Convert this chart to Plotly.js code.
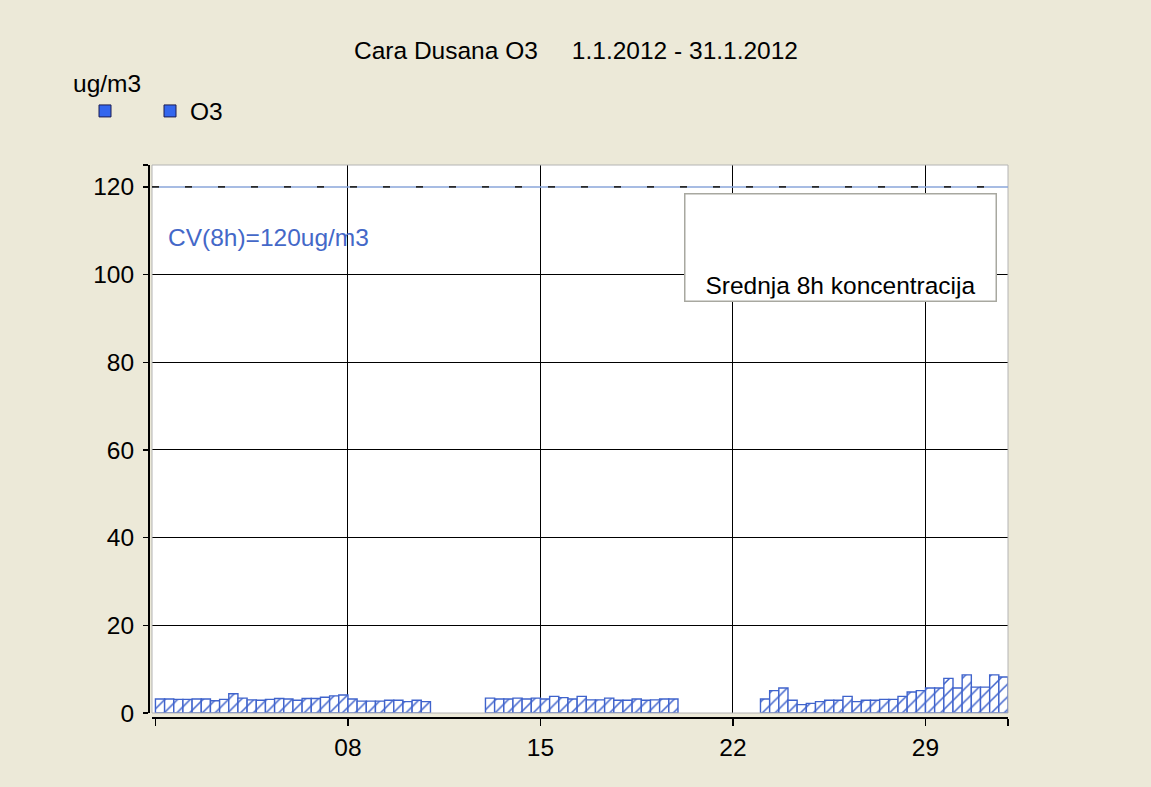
<!DOCTYPE html>
<html>
<head>
<meta charset="utf-8">
<script src="https://cdn.plot.ly/plotly-3.0.1.min.js"></script>
<style>html,body{margin:0;padding:0;background:#ECE9D8;}#chart{width:1151px;height:787px;}</style>
</head>
<body>
<div id="chart"></div>
<script>
// ---- data (8-hour mean O3, ug/m3) ----
const seg1Start = '2012-01-01';
const seg1Values = [3.2,3.2,3.1,3.1,3.2,3.2,2.8,3.1,4.4,3.4,3.0,2.9,3.1,3.3,3.2,2.9,3.3,3.3,3.6,3.9,4.1,3.2,2.7,2.7,2.7,2.9,2.9,2.6,2.9,2.6];
const seg2Start = '2012-01-13';
const seg2Values = [3.4,3.2,3.2,3.4,3.2,3.4,3.2,3.8,3.5,3.2,3.8,3.0,3.0,3.4,2.9,2.9,3.2,2.9,3.0,3.2,3.2];
const seg3Start = '2012-01-23';
const seg3Values = [3.2,5.1,5.7,2.9,1.9,2.2,2.6,2.9,2.9,3.8,2.6,2.9,2.9,3.1,3.1,3.8,4.8,5.1,5.7,5.7,7.9,5.7,8.7,5.9,5.9,8.7,8.2];
const threshold = 120;
const yTickVals = [0,20,40,60,80,100,120,125];
const yTickText = ['0','20','40','60','80','100','120',''];
const yGridVals = [20,40,60,80,100];
const xTickVals = ['2012-01-01','2012-01-08','2012-01-15','2012-01-22','2012-01-29','2012-02-01'];
const xTickText = ['','08','15','22','29',''];
const xGridVals = ['2012-01-08','2012-01-15','2012-01-22','2012-01-29'];
const xRange = ['2011-12-31 21:00','2012-02-01 00:00'];

const H8 = 8*3600*1000;
function segX(start, vals){
  const t0 = Date.parse(start + 'T00:00:00Z');
  return vals.map((v,i) => t0 + i*H8 + H8/2);
}
const xs = [].concat(segX(seg1Start, seg1Values), segX(seg2Start, seg2Values), segX(seg3Start, seg3Values));
const ys = [].concat(seg1Values, seg2Values, seg3Values);

const FONT = 'Liberation Sans, Arial, sans-serif';
const BLUE = '#3f63cc';
const FS = 24.5;

const legendMarker = {symbol:'square', size:12, color:'#3366ee', line:{color:'#1c1c50', width:1}};
const traces = [
  {
    type:'bar', x: xs, y: ys, width: H8, showlegend:false, hoverinfo:'skip',
    marker:{color:'white', line:{color:BLUE, width:1.4},
      pattern:{shape:'/', fgcolor:BLUE, bgcolor:'white', size:9, solidity:0.17, fillmode:'replace'}}
  },
  {type:'scatter', x:[null], y:[null], mode:'markers', name:' ', legend:'legend', marker:legendMarker},
  {type:'scatter', x:[null], y:[null], mode:'markers', name:'O3', legend:'legend2', marker:legendMarker}
];

const legendBase = {orientation:'h', xref:'container', yref:'container', y:1-111/787,
          xanchor:'left', yanchor:'middle', bgcolor:'rgba(0,0,0,0)', font:{size:FS}};

const layout = {
  width:1151, height:787,
  paper_bgcolor:'#ECE9D8', plot_bgcolor:'white',
  font:{family:FONT, size:FS, color:'black'},
  margin:{l:148, r:143, t:165, b:70, pad:0},
  bargap:0,
  title:{text:'Cara Dusana O3\u00A0\u00A0\u00A0\u00A0 1.1.2012 - 31.1.2012', font:{size:FS, color:'black'},
         x:576/1151, xref:'container', xanchor:'center', y:1-50/787, yref:'container', yanchor:'middle'},
  showlegend:true,
  legend:Object.assign({}, legendBase, {x:85/1151}),
  legend2:Object.assign({}, legendBase, {x:150/1151}),
  xaxis:{type:'date', range:xRange, domain:[4/860,1], anchor:'free', position:0,
         showline:true, linecolor:'black', linewidth:1.5,
         tickmode:'array', tickvals:xTickVals, ticktext:xTickText,
         ticks:'outside', ticklen:7, tickwidth:1.5, tickcolor:'black', ticklabelstandoff:1,
         showgrid:false, zeroline:false,
         minor:{tickmode:'array', tickvals:xGridVals, showgrid:true, gridcolor:'black', gridwidth:1, ticks:''}},
  yaxis:{range:[0,125], domain:[4/552,1], anchor:'free', position:0,
         showline:true, linecolor:'black', linewidth:1.5,
         tickmode:'array', tickvals:yTickVals, ticktext:yTickText,
         ticks:'outside', ticklen:5, tickwidth:1.5, tickcolor:'black', ticklabelstandoff:4,
         showgrid:false, zeroline:false,
         minor:{tickmode:'array', tickvals:yGridVals, showgrid:true, gridcolor:'black', gridwidth:1, ticks:''}},
  shapes:[
    {type:'rect', xref:'x domain', yref:'y domain', x0:0, x1:1, y0:0, y1:1, line:{color:'#b4b4b4', width:1}, layer:'above'},
    {type:'line', xref:'x domain', yref:'y', x0:0, x1:1, y0:threshold, y1:threshold, line:{color:'#8aa6da', width:1.5}},
    {type:'line', xref:'x domain', yref:'y', x0:0, x1:1, y0:threshold, y1:threshold, line:{color:'#2a2a2a', width:1.6, dash:'7px,26px'}}
  ],
  annotations:[
    {text:'ug/m3', xref:'paper', yref:'paper', x:(71-148)/860, y:(717-83)/552, xanchor:'left', yanchor:'middle',
     showarrow:false, font:{size:FS, color:'black'}},
    {text:'CV(8h)=120ug/m3', xref:'paper', yref:'y', x:(166-148)/860, y:108.5, xanchor:'left', yanchor:'middle',
     showarrow:false, font:{size:FS, color:'#4468c8'}},
    {text:'Srednja 8h koncentracija', xref:'paper', yref:'paper', x:(684-148)/860, y:(717-193)/552,
     xanchor:'left', yanchor:'top', width:306, height:102, valign:'bottom', align:'center',
     bgcolor:'white', bordercolor:'#a8a8a0', borderwidth:1.5, borderpad:2,
     showarrow:false, font:{size:FS, color:'black'}}
  ]
};

Plotly.newPlot('chart', traces, layout, {displayModeBar:false, staticPlot:true});
</script>
</body>
</html>
